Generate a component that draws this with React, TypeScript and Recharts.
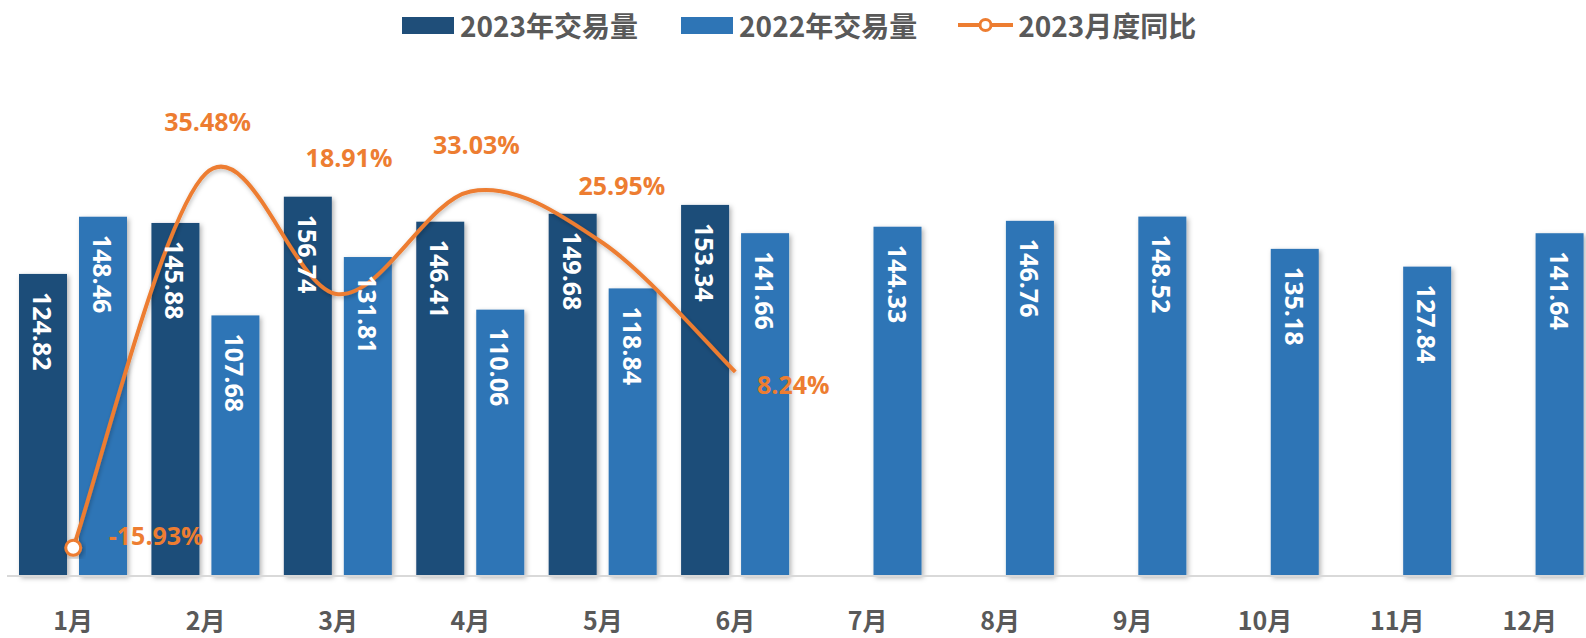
import { ComposedChart, Bar, Line, XAxis, YAxis, Legend, LabelList } from 'recharts'

const months = ['1月', '2月', '3月', '4月', '5月', '6月', '7月', '8月', '9月', '10月', '11月', '12月']
const vol2023 = [124.82, 145.88, 156.74, 146.41, 149.68, 153.34, null, null, null, null, null, null]
const vol2022 = [148.46, 107.68, 131.81, 110.06, 118.84, 141.66, 144.33, 146.76, 148.52, 135.18, 127.84, 141.64]
const yoy2023 = [-15.93, 35.48, 18.91, 33.03, 25.95, 8.24, null, null, null, null, null, null]

// label nudges for the % labels (dx, dy from the point), hand placed like the source
const yoyLabelOffsets = [[83, -13], [2, -53], [11, -137], [6, -47], [19, -58], [58, 12]]

const DARK = '#1F4E79'
const BLUE = '#2E75B6'
const ORANGE = '#ED7D31'
const GREY = '#595959'
const LATIN = "'Open Sans', 'Noto Sans CJK SC', sans-serif"
const CJK = "'Noto Sans CJK SC', 'Open Sans', sans-serif"

const data = months.map((m, i) => ({
  month: m,
  v2023: vol2023[i],
  v2022: vol2022[i],
  yoy: yoy2023[i],
}))

// Excel-style smoothed line (catmull-rom through the points)
const excelSmooth = (context: any) => {
  let pts: [number, number][] = []
  return {
    areaStart() {},
    areaEnd() {},
    lineStart() {
      pts = []
    },
    lineEnd() {
      if (!pts.length) return
      context.moveTo(pts[0][0], pts[0][1])
      for (let i = 0; i < pts.length - 1; i++) {
        const p0 = pts[Math.max(0, i - 1)]
        const p1 = pts[i]
        const p2 = pts[i + 1]
        const p3 = pts[Math.min(pts.length - 1, i + 2)]
        context.bezierCurveTo(
          p1[0] + (p2[0] - p0[0]) / 6,
          p1[1] + (p2[1] - p0[1]) / 6,
          p2[0] - (p3[0] - p1[0]) / 6,
          p2[1] - (p3[1] - p1[1]) / 6,
          p2[0],
          p2[1],
        )
      }
    },
    point(x: number, y: number) {
      pts.push([x, y])
    },
  }
}

function ShadowBar(props: any) {
  const { x = 0, y = 0, width = 0, height = 0, fill } = props
  if (height <= 0 || width <= 0) return <g />
  return <rect x={x} y={y} width={width} height={height} fill={fill} filter="url(#barShadow)" />
}

function BarValue(props: any) {
  const { x, y, width, value } = props
  if (value == null || x == null) return null
  const cx = Number(x) + Number(width) / 2
  const ty = Number(y) + 18
  return (
    <text
      x={cx}
      y={ty}
      transform={`rotate(90 ${cx} ${ty})`}
      fill="#fff"
      fontSize={25}
      fontWeight={700}
      fontFamily={LATIN}
      textAnchor="start"
      dominantBaseline="central"
    >
      {Number(value).toFixed(2)}
    </text>
  )
}

function YoyLabel(props: any) {
  const { x, y, value } = props
  if (value == null || x == null) return null
  const idx = props.index != null ? props.index : yoy2023.indexOf(value)
  const [dx, dy] = yoyLabelOffsets[idx] || [0, -30]
  return (
    <text
      x={Number(x) + dx}
      y={Number(y) + dy}
      fill={ORANGE}
      fontSize={25}
      fontWeight={700}
      fontFamily={LATIN}
      textAnchor="middle"
      dominantBaseline="central"
    >
      {Number(value).toFixed(2)}%
    </text>
  )
}

function FirstDot(props: any) {
  const { cx, cy, index } = props
  if (index !== 0 || cx == null) return <g key={`d${index}`} />
  return <circle key="d0" cx={cx} cy={cy} r={7.5} fill="#fff" stroke={ORANGE} strokeWidth={3} filter="url(#barShadow)" />
}

function MonthTick(props: any) {
  const { x, y, payload } = props
  return (
    <text
      x={x}
      y={y}
      dy={43}
      textAnchor="middle"
      dominantBaseline="central"
      fill={GREY}
      fontSize={25}
      fontWeight={700}
      fontFamily={CJK}
    >
      {payload.value}
    </text>
  )
}

function LegendContent() {
  const text = {
    fontFamily: CJK,
    fontWeight: 700,
    fontSize: 28,
    color: GREY,
    lineHeight: '50px',
    whiteSpace: 'nowrap' as const,
  }
  return (
    <div style={{ display: 'flex', alignItems: 'center', height: 50, paddingLeft: 402 }}>
      <span style={{ width: 52, height: 17, background: DARK, marginRight: 6 }} />
      <span style={text}>2023年交易量</span>
      <span style={{ width: 52, height: 17, background: BLUE, marginLeft: 43, marginRight: 6 }} />
      <span style={text}>2022年交易量</span>
      <svg width={55} height={20} style={{ marginLeft: 41, marginRight: 5 }}>
        <line x1={0} y1={10} x2={55} y2={10} stroke={ORANGE} strokeWidth={4} />
        <circle cx={27.5} cy={10} r={5.5} fill="#fff" stroke={ORANGE} strokeWidth={3} />
      </svg>
      <span style={text}>2023月度同比</span>
    </div>
  )
}

export default function App() {
  return (
    <div
      style={{
        position: 'absolute',
        left: 0,
        top: 0,
        width: 1586,
        height: 638,
        overflow: 'hidden',
        background: '#fff',
      }}
    >
      <ComposedChart
        width={1600}
        height={638}
        data={data}
        margin={{ top: 42, right: 4, left: 7, bottom: 0 }}
        barGap={12}
      >
        <defs>
          <filter id="barShadow" x="-20%" y="-20%" width="150%" height="140%">
            <feDropShadow dx="2" dy="2" stdDeviation="2.5" floodColor="#000" floodOpacity="0.3" />
          </filter>
          <filter id="lineShadow" x="-10%" y="-10%" width="120%" height="130%">
            <feDropShadow dx="1" dy="2" stdDeviation="2" floodColor="#000" floodOpacity="0.25" />
          </filter>
        </defs>
        <Legend
          verticalAlign="top"
          align="left"
          content={LegendContent}
          wrapperStyle={{ left: 0, top: 0, width: 1586, height: 50 }}
        />
        <XAxis
          dataKey="month"
          tick={MonthTick}
          tickLine={false}
          tickSize={0}
          tickMargin={0}
          height={62}
          axisLine={{ stroke: '#D9D9D9', strokeWidth: 2 }}
          interval={0}
        />
        <YAxis yAxisId="left" hide domain={[0, 200]} />
        <YAxis yAxisId="right" orientation="right" hide domain={[-19.8, 46.7]} allowDataOverflow />
        <Bar yAxisId="left" dataKey="v2023" name="2023年交易量" fill={DARK} barSize={48} shape={ShadowBar} isAnimationActive={false}>
          <LabelList dataKey="v2023" content={BarValue} />
        </Bar>
        <Bar yAxisId="left" dataKey="v2022" name="2022年交易量" fill={BLUE} barSize={48} shape={ShadowBar} isAnimationActive={false}>
          <LabelList dataKey="v2022" content={BarValue} />
        </Bar>
        <Line
          yAxisId="right"
          dataKey="yoy"
          name="2023月度同比"
          type={excelSmooth as any}
          stroke={ORANGE}
          strokeWidth={4}
          filter="url(#lineShadow)"
          dot={FirstDot}
          activeDot={false}
          isAnimationActive={false}
        >
          <LabelList dataKey="yoy" content={YoyLabel} />
        </Line>
      </ComposedChart>
    </div>
  )
}
